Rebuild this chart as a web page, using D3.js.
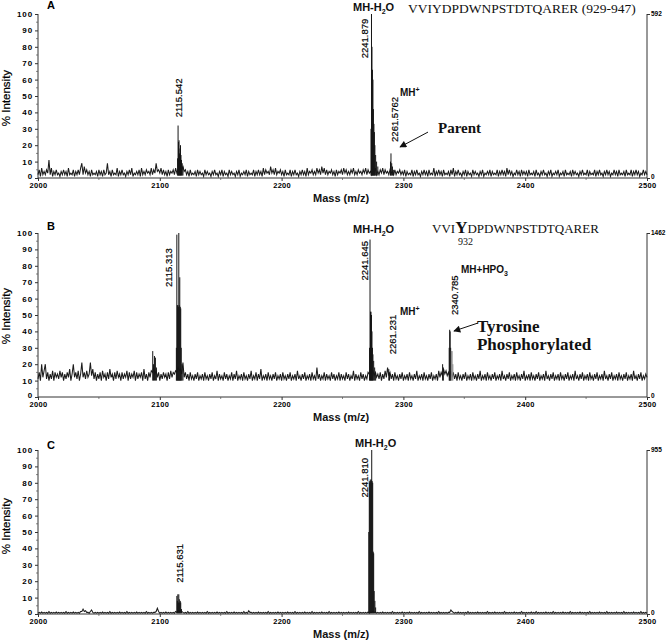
<!DOCTYPE html>
<html>
<head>
<meta charset="utf-8">
<script src="https://cdn.jsdelivr.net/npm/d3@7/dist/d3.min.js"></script>
<style>
  body { margin: 0; background: #fff; }
  svg { display: block; }
</style>
</head>
<body>
<div id="chart"></div>
<script>
// ---- data ----
const MASS_START = 2000;
const MASS_STEP  = 1;          // noise arrays: one value per Da from 2000 to 2500
const massTicks  = [2000, 2100, 2200, 2300, 2400, 2500];
const massMinor  = [2050, 2150, 2250, 2350, 2450];
const pctTicks   = [0, 10, 20, 30, 40, 50, 60, 70, 80, 90, 100];
const pctMinor   = [5, 15, 25, 35, 45, 55, 65, 75, 85, 95];
const maxCounts  = [592, 1462, 955];
const baseLevels = [1.5, 10, 0.5];   // floor of the noise band in each spectrum

const noiseA = [
  2,5,1,6,2,4,2,5,3,11,2,6,1,4,2,5,2,3,1,4,2,5,2,4,1,6,2,3,2,5,1,4,2,5,2,6,9,2,7,3,5,2,4,1,5,2,3,2,4,1,
  5,2,4,1,5,2,3,9,2,4,1,5,2,3,2,6,1,4,2,5,2,3,1,4,2,5,2,6,1,3,2,4,2,5,1,6,2,4,2,5,3,4,2,6,2,5,3,9,4,5,
  3,6,2,5,2,4,1,5,2,4,3,5,2,6,3,5,4,6,5,7,4,5,2,4,1,5,2,3,2,4,1,5,2,4,2,3,1,5,2,4,2,3,1,4,2,5,2,3,1,4,
  2,5,1,4,2,3,1,5,2,4,2,3,1,4,2,5,1,3,2,4,2,5,1,4,2,3,2,5,1,4,2,5,2,4,1,6,2,5,3,4,2,7,3,5,2,6,2,4,3,5,
  2,4,1,5,2,3,2,5,1,4,2,5,2,3,1,4,2,5,2,4,1,6,2,4,3,5,2,4,2,6,3,5,2,7,3,6,2,5,2,4,3,5,2,4,1,5,2,4,3,5,
  2,6,3,5,2,4,2,5,3,6,2,4,2,5,3,4,2,5,3,6,2,5,3,4,2,5,3,6,2,4,2,5,3,6,2,5,3,4,2,5,3,4,2,5,2,4,3,5,2,4,
  2,5,1,4,2,3,2,5,1,4,2,5,2,3,1,4,2,5,2,4,1,5,2,3,2,6,1,4,2,5,2,4,1,5,2,3,2,4,1,5,2,6,1,4,2,5,2,3,1,4,
  2,5,1,4,2,3,1,5,2,4,2,3,1,4,2,5,1,3,2,4,2,5,1,4,2,3,2,5,1,4,2,5,2,4,1,6,2,5,2,4,1,3,2,5,2,4,1,5,2,4,
  2,4,1,5,2,3,2,4,1,5,2,3,1,4,2,5,2,3,1,4,2,5,1,3,2,4,2,5,1,3,2,4,1,5,2,3,2,4,1,5,2,4,2,3,1,4,2,5,2,3,
  2,5,1,4,2,3,2,5,1,4,2,5,2,3,1,4,2,5,2,4,1,3,2,5,2,4,1,5,2,3,2,4,1,5,2,3,2,5,1,4,2,5,2,4,1,3,2,5,2,4,
  2
];
const peaksA = [
  [2114.6,12],[2115.0,32],[2115.4,22],[2115.8,23],[2116.2,15],[2116.6,18],
  [2117.0,20],[2117.4,14],[2117.8,11],[2118.4,9],[2119.0,7],
  [2273.4,30],[2273.8,100],[2274.2,80],[2274.6,66],[2275.0,60],[2275.4,42],
  [2275.8,33],[2276.2,28],[2276.6,20],[2277.2,14],[2278.0,10],[2279.0,7],
  [2289.4,10],[2289.8,15],[2290.4,9],[2291.0,7],[2292.0,5]
];

const noiseB = [
  11,15,10,20,12,16,20,11,15,10,14,11,16,10,15,12,14,11,16,12,15,10,14,11,15,12,17,10,14,20,12,15,11,16,10,14,21,12,15,11,16,12,14,21,13,17,11,15,10,14,
  11,15,10,16,12,14,10,15,11,17,12,14,10,15,11,16,12,14,10,15,11,14,12,16,10,15,11,14,12,16,10,15,11,14,12,15,10,17,11,14,10,15,12,16,15,18,14,16,12,15,
  10,14,11,15,12,14,10,15,11,16,12,15,14,16,15,18,16,17,14,21,12,15,11,14,10,15,11,13,10,14,11,15,10,13,11,14,10,15,11,13,10,14,11,15,10,13,11,16,10,14,
  11,13,10,15,11,14,10,13,11,15,10,14,11,16,10,13,11,14,10,15,11,13,10,14,11,16,10,13,11,15,10,14,11,17,10,13,11,14,10,15,11,13,10,14,11,15,10,13,11,14,
  10,15,11,13,10,14,11,15,10,13,11,14,10,16,11,13,10,14,11,15,10,13,11,14,10,15,11,13,10,18,11,14,10,13,11,15,10,14,11,13,10,15,11,14,10,13,11,15,10,14,
  11,13,10,15,11,14,10,13,11,16,10,14,11,13,10,15,11,14,10,13,11,15,14,17,15,16,13,15,12,14,11,15,10,14,11,16,12,18,13,15,11,14,10,15,11,13,10,14,11,15,
  10,13,11,14,10,15,11,13,10,14,11,16,10,13,11,14,10,15,11,13,10,14,11,15,10,13,11,14,10,16,12,15,13,17,14,16,13,15,12,16,12,15,11,14,10,15,11,13,10,14,
  11,15,10,13,11,14,10,15,11,13,10,14,11,16,10,13,11,14,10,15,11,13,10,14,11,15,10,13,11,14,10,16,11,13,10,14,11,15,10,13,11,14,10,15,11,13,10,14,11,16,
  10,13,11,14,10,15,11,13,10,14,11,15,10,13,11,14,10,16,11,13,10,14,11,15,10,13,11,14,10,15,11,13,10,14,11,15,10,13,11,14,10,16,11,13,10,14,11,15,10,13,
  11,14,10,15,11,13,10,14,11,15,10,13,11,14,10,16,11,13,10,14,11,15,10,13,11,14,10,15,11,13,10,14,11,15,10,13,11,14,10,16,11,13,10,14,11,15,10,13,11,14,
  12
];
const peaksB = [
  [2094.2,28],[2094.8,20],[2095.6,25],[2096.4,24],[2097.2,18],
  [2113.6,30],[2114.0,99],[2114.4,56],[2114.8,56],[2115.2,55],[2115.6,100],
  [2116.0,56],[2116.4,73],[2116.8,55],[2117.2,54],[2117.6,30],[2118.2,20],[2119.0,17],
  [2272.2,30],[2272.6,96],[2273.0,52],[2273.4,52],[2273.8,50],[2274.2,40],
  [2274.6,30],[2275.0,26],[2275.6,22],[2276.4,18],[2277.2,15],
  [2288.0,17],[2288.6,15],
  [2332.2,20],[2332.8,18],
  [2337.6,30],[2338.0,41],[2338.4,40],[2338.8,30]
];
const shoulderB = [[2339.4,28],[2340.0,28],[2340.6,20]];

const noiseC = [
  0.5,1,0.5,1.2,0.5,1,0.5,1,0.5,1.5,0.5,1,0.5,1,0.5,1.2,0.5,1,0.5,1,0.5,1,0.5,1.5,0.5,1,0.5,1,0.5,1.2,0.5,1,0.5,1,0.5,1.5,1.5,3,1.5,2,1,1,0.5,1.5,2.5,1,0.5,1,0.5,1,
  0.5,1,0.5,1.2,0.5,1,0.5,1,0.5,1.5,0.5,1,0.5,1,0.5,1,0.5,1.2,0.5,1,0.5,1,0.5,1.5,0.5,1,0.5,1,0.5,1,0.5,1.2,0.5,1,0.5,1,0.5,1,0.5,1.5,0.5,1,0.5,1,0.5,1,1,1.5,3.5,1.5,
  0.5,1,0.5,1,0.5,1.2,0.5,1,0.5,1,0.5,1,0.5,1.5,1,2,1.5,2,1.5,1,0.5,1,0.5,1.5,0.5,1,0.5,1,0.5,1,0.5,1.2,0.5,1,0.5,1,0.5,1,0.5,1.5,0.5,1,0.5,1,0.5,1,0.5,1.2,0.5,1,
  0.5,1,0.5,1,0.5,1.5,0.5,1,0.5,1,0.5,1.2,0.5,1,0.5,1,0.5,1,0.5,1.5,0.5,1,0.5,2,1,1,0.5,1,0.5,1,0.5,1.2,0.5,1,0.5,1,0.5,1,0.5,1.5,0.5,1,0.5,1,0.5,1,0.5,1.2,0.5,1,
  0.5,1,0.5,1,0.5,1.2,0.5,1,0.5,1,0.5,1.5,0.5,1,0.5,1,0.5,1,0.5,1.2,0.5,1,0.5,1,0.5,1.5,0.5,1,0.5,1,0.5,1,0.5,1.2,0.5,1,0.5,1,0.5,1.5,0.5,1,0.5,1,0.5,1,0.5,1.2,0.5,1,
  0.5,1,0.5,1,0.5,1.2,0.5,1,0.5,1,0.5,1,0.5,1.5,0.5,1,0.5,1,0.5,1,0.5,1.2,0.5,1,1,1.5,1,1.2,0.5,1,0.5,1,0.5,1.2,0.5,1,0.5,1,0.5,1,0.5,1.5,0.5,1,0.5,1,0.5,1,0.5,1.2,
  0.5,1,0.5,1,0.5,1.2,0.5,1,0.5,1,0.5,1,0.5,1.5,0.5,1,0.5,1,0.5,1,0.5,1.2,0.5,1,0.5,1,0.5,1,0.5,1.5,0.5,1,0.5,1,0.5,1,0.5,1,1,2.5,1.5,1,0.5,1,0.5,1.2,0.5,1,0.5,1,
  0.5,1,0.5,1.5,0.5,1,0.5,1,0.5,1,0.5,1.2,0.5,1,0.5,1,0.5,1,0.5,1.5,0.5,1,0.5,1,0.5,1.2,0.5,1,0.5,1,0.5,1,0.5,1.5,0.5,1,0.5,1,0.5,1,0.5,1.2,0.5,1,0.5,1,0.5,1.5,0.5,1,
  0.5,1,0.5,1,0.5,1.2,0.5,1,0.5,1.5,0.5,1,0.5,1,0.5,1,0.5,1.2,0.5,1,0.5,1,0.5,1.5,0.5,1,0.5,1,0.5,1,0.5,1.2,0.5,1,0.5,1,0.5,1.5,0.5,1,0.5,1,0.5,1,0.5,1.2,0.5,1,0.5,1,
  0.5,1,0.5,1.5,0.5,1,0.5,1,0.5,1,0.5,1.2,0.5,1,0.5,1,0.5,1.5,0.5,1,0.5,1,0.5,1,0.5,1.2,0.5,1,0.5,1,0.5,1.5,0.5,1,0.5,1,0.5,1,0.5,1.2,0.5,1,0.5,1,0.5,1.5,0.5,1,0.5,1,
  0.5
];
const peaksC = [
  [2114.0,11],[2114.4,8],[2114.8,12],[2115.2,7],[2115.6,12],[2116.0,9],
  [2116.4,7],[2116.8,8],[2117.2,7],[2117.8,3],
  [2271.6,50],[2272.0,81],[2272.4,80],[2272.8,82],[2273.2,81],[2273.6,82],
  [2274.0,100],[2274.4,81],[2274.8,80],[2275.2,38],[2275.6,37],[2276.0,14],
  [2276.6,8],[2277.2,4]
];

// rotated m/z labels: [text, mass, % intensity] at the bottom end of the label
const massLabelsA = [["2115.542",2118.6,37],["2241.879",2270.9,73],["2261.5762",2295.6,22]];
const massLabelsB = [["2115.313",2110.4,67],["2241.645",2270.9,71],["2261.231",2294.3,26],["2340.785",2344.8,50]];
const massLabelsC = [["2115.631",2119.0,19],["2241.810",2270.9,71]];

// ---- layout ----
const WIDTH  = 672;
const HEIGHT = 641;
const LEFT   = 38;
const RIGHT  = 647;
const PLOT_H = 164;
const SANS   = "'Liberation Sans', Arial, sans-serif";
const SERIF  = "'Liberation Serif', 'Times New Roman', serif";

const panels = [
  { letter: "A", top: 14,  noise: noiseA, peaks: peaksA, labels: massLabelsA, max: maxCounts[0], base: baseLevels[0], letterY: 9,   titleY: 98 },
  { letter: "B", top: 233, noise: noiseB, peaks: peaksB, labels: massLabelsB, max: maxCounts[1], base: baseLevels[1], letterY: 230, titleY: 316 },
  { letter: "C", top: 450, noise: noiseC, peaks: peaksC, labels: massLabelsC, max: maxCounts[2], base: baseLevels[2], letterY: 449, titleY: 526 }
];

const svg = d3.select("#chart").append("svg")
  .attr("width", WIDTH)
  .attr("height", HEIGHT);

const x = d3.scaleLinear().domain([2000, 2500]).range([LEFT, RIGHT]);

svg.append("defs").append("marker")
  .attr("id", "head")
  .attr("viewBox", "0 0 10 10")
  .attr("refX", 9).attr("refY", 5)
  .attr("markerWidth", 9).attr("markerHeight", 7)
  .attr("markerUnits", "userSpaceOnUse")
  .attr("orient", "auto")
  .append("path").attr("d", "M0,0L10,5L0,10Z").attr("fill", "#111");

// text with sub/superscripts
function chem(sel, parts) {
  parts.forEach(p => {
    const t = sel.append("tspan").text(p.t);
    if (p.sub) t.attr("font-size", 7).attr("dy", 3);
    if (p.sup) t.attr("font-size", 7).attr("dy", -4);
    if (p.back) t.attr("dy", p.back);
  });
}

panels.forEach((p, k) => {
  const y = d3.scaleLinear().domain([0, 100]).range([p.top + PLOT_H, p.top]);
  const g = svg.append("g");
  const bottom = y(0);

  // left axis
  const yAxis = g.append("g")
    .attr("transform", `translate(${LEFT},0)`)
    .call(d3.axisLeft(y).tickValues(pctTicks).tickSize(3).tickPadding(2));
  yAxis.selectAll("text")
    .attr("font-family", SANS).attr("font-size", 8).attr("font-weight", "bold")
    .attr("letter-spacing", 0.9).attr("fill", "#000");
  yAxis.selectAll(".tick text").filter(d => d === 0).attr("dy", "0.1em");
  yAxis.selectAll("line").attr("stroke", "#333");
  yAxis.select(".domain").attr("stroke", "#333").attr("d", `M0,${y(100)}V${bottom}`);
  g.append("g").attr("transform", `translate(${LEFT},0)`)
    .selectAll("line").data(pctMinor).join("line")
    .attr("x1", -2).attr("x2", 0).attr("y1", d => y(d)).attr("y2", d => y(d))
    .attr("stroke", "#555").attr("stroke-width", 0.7);

  // bottom axis
  const xAxis = g.append("g")
    .attr("transform", `translate(0,${bottom})`)
    .call(d3.axisBottom(x).tickValues(massTicks).tickFormat(d3.format("d")).tickSize(3).tickPadding(2));
  xAxis.selectAll("text")
    .attr("font-family", SANS).attr("font-size", 7.5).attr("font-weight", "bold")
    .attr("letter-spacing", 0.3).attr("fill", "#000");
  xAxis.selectAll("line").attr("stroke", "#333");
  xAxis.select(".domain").attr("stroke", "#333").attr("d", `M${LEFT},0H${RIGHT}`);
  g.append("g").attr("transform", `translate(0,${bottom})`)
    .selectAll("line").data(massMinor).join("line")
    .attr("x1", d => x(d)).attr("x2", d => x(d)).attr("y1", 0).attr("y2", 2)
    .attr("stroke", "#555").attr("stroke-width", 0.7);

  // right count axis
  const yCounts = d3.scaleLinear().domain([0, p.max]).range([bottom, p.top]);
  const rAxis = g.append("g")
    .attr("transform", `translate(${RIGHT},0)`)
    .call(d3.axisRight(yCounts).tickValues([0, p.max]).tickFormat(d3.format("d")).tickSize(3).tickPadding(1));
  rAxis.selectAll("text")
    .attr("font-family", SANS).attr("font-size", 6.5).attr("font-weight", "bold").attr("fill", "#000");
  rAxis.selectAll(".tick text").attr("dy", (d, i) => i === 0 ? "0.1em" : "0.2em");
  rAxis.select(".domain").attr("stroke", "#333").attr("d", `M0,${p.top}V${bottom}`);
  rAxis.selectAll("line").attr("stroke", "#333");

  // noise trace
  const line = d3.line()
    .x((d, i) => x(MASS_START + i * MASS_STEP))
    .y(d => y(d));
  g.append("path")
    .datum(p.noise)
    .attr("d", line)
    .attr("fill", "none")
    .attr("stroke", "#1c1c1c")
    .attr("stroke-width", 1.05);

  // peak sticks, standing on the noise floor
  g.selectAll(".stick").data(p.peaks).join("line")
    .attr("class", "stick")
    .attr("x1", d => x(d[0])).attr("x2", d => x(d[0]))
    .attr("y1", y(p.base)).attr("y2", d => y(d[1]))
    .attr("stroke", "#151515").attr("stroke-width", 1);

  if (p.letter === "B") {
    g.selectAll(".shoulder").data(shoulderB).join("line")
      .attr("class", "shoulder")
      .attr("x1", d => x(d[0])).attr("x2", d => x(d[0]))
      .attr("y1", y(p.base)).attr("y2", d => y(d[1]))
      .attr("stroke", "#8a8a8a").attr("stroke-width", 1);
  }

  // rotated peak mass labels
  g.selectAll(".mz").data(p.labels).join("text")
    .attr("class", "mz")
    .attr("transform", d => `translate(${x(d[1])},${y(d[2])}) rotate(-90)`)
    .attr("font-family", SANS).attr("font-size", 9.5).attr("fill", "#000")
    .attr("stroke", "#000").attr("stroke-width", 0.2)
    .text(d => d[0]);

  // panel letter, titles
  g.append("text").attr("x", 47).attr("y", p.letterY)
    .attr("font-family", SANS).attr("font-size", 11).attr("font-weight", "bold").text(p.letter);
  g.append("text")
    .attr("transform", `translate(10,${p.titleY}) rotate(-90)`)
    .attr("text-anchor", "middle")
    .attr("font-family", SANS).attr("font-size", 11.5).attr("fill", "#000")
    .attr("stroke", "#000").attr("stroke-width", 0.2)
    .text("% Intensity");
  g.append("text").attr("x", 313).attr("y", bottom + 24)
    .attr("font-family", SANS).attr("font-size", 11).attr("font-weight", "bold").attr("fill", "#111")
    .text("Mass (m/z)");

  // MH-H2O label over main peak
  const mhw = g.append("text")
    .attr("x", x(k === 2 ? 2260.3 : 2258.6)).attr("y", y(k === 1 ? 100 : 102))
    .attr("font-family", SANS).attr("font-size", 11).attr("font-weight", "bold").attr("fill", "#111");
  chem(mhw, [{ t: "MH-H" }, { t: "2", sub: true }, { t: "O", back: -3 }]);

  if (k < 2) {
    const mh = g.append("text")
      .attr("x", x(2297.2)).attr("y", y(50))
      .attr("font-family", SANS).attr("font-size", 10).attr("font-weight", "bold").attr("fill", "#111");
    chem(mh, [{ t: "MH" }, { t: "+", sup: true }]);
  }

  if (k === 0) {
    g.append("text").attr("x", x(2303.8)).attr("y", y(100.6))
      .attr("font-family", SERIF).attr("font-size", 13.5).attr("fill", "#111")
      .text("VVIYDPDWNPSTDTQARER (929-947)");
    g.append("text").attr("x", x(2328.4)).attr("y", y(27.4))
      .attr("font-family", SERIF).attr("font-size", 15).attr("font-weight", "bold").attr("fill", "#111")
      .text("Parent");
    g.append("line")
      .attr("x1", x(2320.2)).attr("y1", y(28)).attr("x2", x(2297.2)).attr("y2", y(18.9))
      .attr("stroke", "#111").attr("stroke-width", 1).attr("marker-end", "url(#head)");
  }

  if (k === 1) {
    const pep = g.append("text").attr("x", x(2323.5)).attr("y", y(100))
      .attr("font-family", SERIF).attr("font-size", 13).attr("fill", "#111");
    pep.append("tspan").text("VVI");
    pep.append("tspan").attr("font-weight", "bold").attr("font-size", 17).text("Y");
    pep.append("tspan").text("DPDWNPSTDTQARER");
    g.append("text").attr("x", x(2344.8)).attr("y", y(92.7))
      .attr("font-family", SERIF).attr("font-size", 10).attr("fill", "#111").text("932");

    const hpo = g.append("text").attr("x", x(2347.3)).attr("y", y(75.6))
      .attr("font-family", SANS).attr("font-size", 10).attr("font-weight", "bold").attr("fill", "#111");
    chem(hpo, [{ t: "MH+HPO" }, { t: "3", sub: true }]);

    g.append("text").attr("x", x(2360.4)).attr("y", y(39.6))
      .attr("font-family", SERIF).attr("font-size", 17).attr("font-weight", "bold").attr("fill", "#111")
      .text("Tyrosine");
    g.append("text").attr("x", x(2360.4)).attr("y", y(28.7))
      .attr("font-family", SERIF).attr("font-size", 17).attr("font-weight", "bold").attr("fill", "#111")
      .text("Phosphorylated");
    g.append("line")
      .attr("x1", x(2361.2)).attr("y1", y(45.1)).attr("x2", x(2341.5)).attr("y2", y(40.2))
      .attr("stroke", "#111").attr("stroke-width", 1).attr("marker-end", "url(#head)");
  }
});
</script>
</body>
</html>
